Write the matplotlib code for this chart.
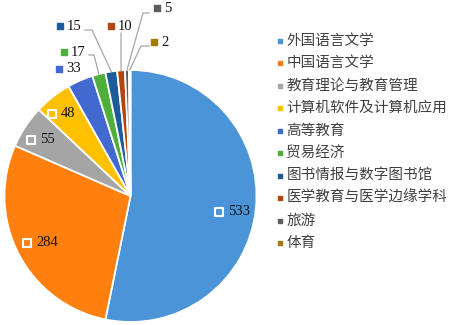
import numpy as np
import matplotlib
matplotlib.use("Agg")
import matplotlib.pyplot as plt

plt.rcParams['font.family'] = ['Noto Sans CJK SC', 'DejaVu Sans']

# data
categories = ["外国语言文学", "中国语言文学", "教育理论与教育管理", "计算机软件及计算机应用",
              "高等教育", "贸易经济", "图书情报与数字图书馆", "医学教育与医学边缘学科",
              "旅游", "体育"]
counts = [533, 284, 55, 48, 33, 17, 15, 10, 5, 2]
colors = ["#4C94D8", "#FF7F0F", "#A5A5A5", "#FFC000", "#4169CF",
          "#4FAF3A", "#1E5C99", "#B5450C", "#5E5E5E", "#A27C06"]

W, H = 452, 325
CX, CY, R = 130.5, 196.0, 126.0


def to_data(px, py):
    return (px - CX) / R, (CY - py) / R


fig = plt.figure(figsize=(W / 100, H / 100), dpi=100)
ax = fig.add_axes([0, 0, 261 / W, 1])
wedges, _ = ax.pie(counts, colors=colors, startangle=90, counterclock=False,
                   wedgeprops=dict(edgecolor="white", linewidth=1.3))
ax.set_xlim(-CX / R, (261 - CX) / R)
ax.set_ylim(-(H - CY) / R, CY / R)
ax.set_aspect("auto")

num_font = dict(family="Liberation Serif", size=10.5, color="#111111")

# inside labels for the big slices
inside = {0: 0.82, 1: 0.80, 2: 0.81, 3: 0.83}
for i, rr in inside.items():
    w = wedges[i]
    ang = np.deg2rad((w.theta1 + w.theta2) / 2)
    if i == 0:
        ang -= np.deg2rad(3)
    x, y = rr * np.cos(ang), rr * np.sin(ang)
    ax.scatter([x - 14 / R], [y], marker="s", s=28, facecolor=colors[i],
               edgecolor="white", linewidth=1.5, zorder=5)
    ax.text(x - 5 / R, y, str(counts[i]), ha="left", va="center", **num_font)

# outside labels: marker position (px), leader path (px) or None
outside = {
    4: ((59, 69), None),
    5: ((64, 52), [(89, 55), (94, 55)]),
    6: ((60, 26), [(85, 30), (92, 30)]),
    7: ((111, 26), [(121, 33)]),
    8: ((157, 8), [(149, 13), (143, 13)]),
    9: ((154, 42), [(149, 46), (141, 46)]),
}
for i, (mpos, path) in outside.items():
    mx, my = to_data(*mpos)
    ax.scatter([mx], [my], marker="s", s=14, color=colors[i], zorder=5, clip_on=False)
    ax.text(mx + 7 / R, my, str(counts[i]), ha="left", va="center", clip_on=False, **num_font)
    if path:
        w = wedges[i]
        ang = np.deg2rad((w.theta1 + w.theta2) / 2)
        pts = [to_data(*p) for p in path] + [(np.cos(ang), np.sin(ang))]
        xs, ys = zip(*pts)
        ax.plot(xs, ys, color="#A6A6A6", lw=0.9, clip_on=False, zorder=4)

# legend drawn on an overlay axes in pixel coordinates
lax = fig.add_axes([0, 0, 1, 1])
lax.set_xlim(0, W)
lax.set_ylim(H, 0)
lax.axis("off")
for k, (lab, c) in enumerate(zip(categories, colors)):
    yy = 40.5 + k * 22.5
    lax.scatter([280.5], [yy], marker="s", s=10, color=c)
    lax.text(286.5, yy, lab, ha="left", va="center", fontsize=10.5, color="#404040")

fig.savefig("out.png", dpi=100)
